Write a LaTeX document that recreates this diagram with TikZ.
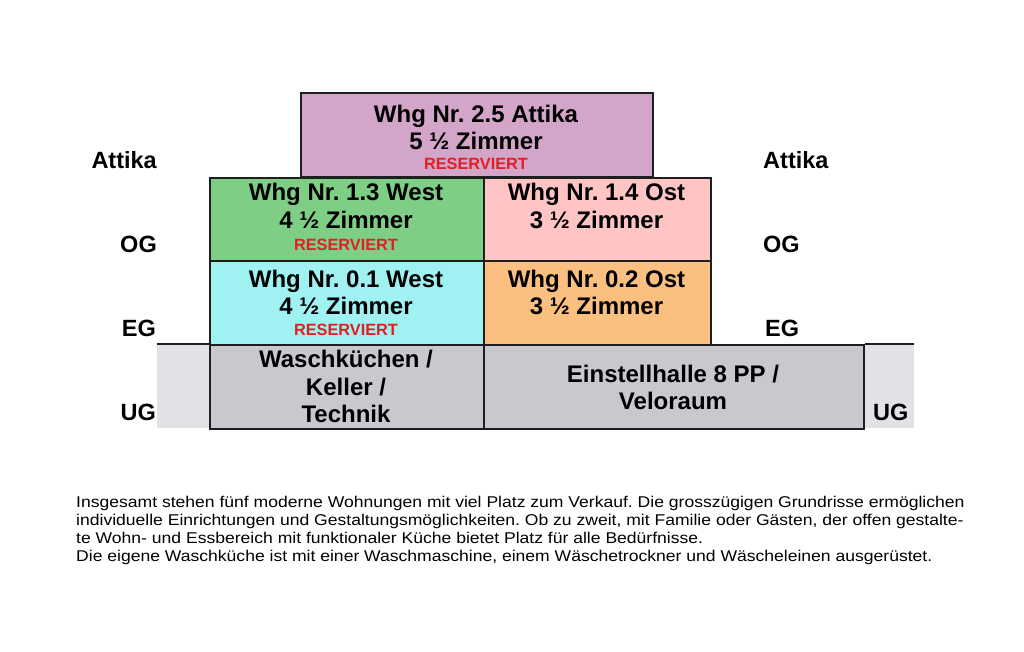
\documentclass[tikz,border=0pt]{standalone}
\usepackage{fontspec}
\setmainfont{Liberation Sans}
\frenchspacing
\definecolor{cAtt}{RGB}{211,165,201}
\definecolor{cGreen}{RGB}{127,206,133}
\definecolor{cPink}{RGB}{255,197,197}
\definecolor{cCyan}{RGB}{160,241,242}
\definecolor{cOrange}{RGB}{251,192,128}
\definecolor{cGray}{RGB}{199,201,207}
\definecolor{cSide}{RGB}{225,226,230}
\definecolor{cRed}{RGB}{225,30,35}
\definecolor{cLine}{RGB}{30,30,30}
\newcommand{\wideline}[1]{\scalebox{1.125}[1]{#1}}
\begin{document}
\begin{tikzpicture}[x=1pt,y=-1pt,
  room/.style={draw=cLine, line width=1.8pt, inner sep=0pt, anchor=north west},
  big/.style={font=\fontsize{24}{28}\selectfont\bfseries, anchor=base, inner sep=0pt},
  res/.style={font=\fontsize{16.3}{18}\selectfont\bfseries, text=cRed, anchor=base, inner sep=0pt},
  lvl/.style={font=\fontsize{23.5}{28}\selectfont\bfseries, inner sep=0pt},
  para/.style={font=\fontsize{15.6}{18.3}\selectfont, anchor=base west, inner sep=0pt},
  sep/.style={draw=cLine, line width=1.8pt}
  ]
\useasboundingbox[fill=white] (0,0) rectangle (1024,652);

% side ground fills and ground lines
\fill[cSide] (157,344) rectangle (209,428);
\fill[cSide] (863,344) rectangle (914,428);
\coordinate (gl1) at (157,344);
\coordinate (gl2) at (914,344);

% rooms
\node[room, fill=cAtt, minimum width=352pt, minimum height=84pt] (att) at (300,92) {};
\node[room, fill=cGreen, minimum width=274pt, minimum height=83pt] (og13) at (209,177) {};
\node[room, fill=cPink, minimum width=227pt, minimum height=83pt] (og14) at (483,177) {};
\node[room, fill=cCyan, minimum width=274pt, minimum height=84pt] (eg01) at (209,260) {};
\node[room, fill=cOrange, minimum width=227pt, minimum height=84pt] (eg02) at (483,260) {};
\node[room, fill=cGray, minimum width=274pt, minimum height=84pt] (ugw) at (209,344) {};
\node[room, fill=cGray, minimum width=380pt, minimum height=84pt] (ugo) at (483,344) {};

\draw[sep] (gl1) -- (ugw.north west);
\draw[sep] (ugo.north east) -- (gl2);

% room texts
\node[big] (a1) at (476,123) {Whg Nr. 2.5 Attika};
\node[big] (a2) at (476,150) {5 ½ Zimmer};
\node[res] (a3) at (476,170) {RESERVIERT};

\node[big] (b1) at (346,201) {Whg Nr. 1.3 West};
\node[big] (b2) at (346,229) {4 ½ Zimmer};
\node[res] (b3) at (346,250) {RESERVIERT};

\node[big] (c1) at (596.5,201) {Whg Nr. 1.4 Ost};
\node[big] (c2) at (596.5,229) {3 ½ Zimmer};

\node[big] (d1) at (346,287) {Whg Nr. 0.1 West};
\node[big] (d2) at (346,314) {4 ½ Zimmer};
\node[res] (d3) at (346,335) {RESERVIERT};

\node[big] (e1) at (596.5,287) {Whg Nr. 0.2 Ost};
\node[big] (e2) at (596.5,314) {3 ½ Zimmer};

\node[big] (f1) at (346,367) {Waschküchen /};
\node[big] (f2) at (346,395) {Keller /};
\node[big] (f3) at (346,422) {Technik};

\node[big] (g1) at (673,382) {Einstellhalle 8 PP /};
\node[big] (g2) at (673,409) {Veloraum};

% level labels
\node[lvl, anchor=base east] (l1) at (157,169) {Attika};
\node[lvl, anchor=base east] (l2) at (157,252) {OG};
\node[lvl, anchor=base east] (l3) at (156,336) {EG};
\node[lvl, anchor=base east] (l4) at (156,420) {UG};

\node[lvl, anchor=base west] (r1) at (763,169) {Attika};
\node[lvl, anchor=base west] (r2) at (763,252) {OG};
\node[lvl, anchor=base west] (r3) at (765,336) {EG};
\node[lvl, anchor=base west] (r4) at (873,420) {UG};

% paragraph
\node[para] (p1) at (76,507) {\wideline{Insgesamt stehen fünf moderne Wohnungen mit viel Platz zum Verkauf. Die grosszügigen Grundrisse ermöglichen}};
\node[para] (p2) at (76,525.3) {\wideline{individuelle Einrichtungen und Gestaltungsmöglichkeiten. Ob zu zweit, mit Familie oder Gästen, der offen gestalte-}};
\node[para] (p3) at (76,543.6) {\wideline{te Wohn- und Essbereich mit funktionaler Küche bietet Platz für alle Bedürfnisse.}};
\node[para] (p4) at (76,561.9) {\wideline{Die eigene Waschküche ist mit einer Waschmaschine, einem Wäschetrockner und Wäscheleinen ausgerüstet.}};
\end{tikzpicture}
\end{document}
